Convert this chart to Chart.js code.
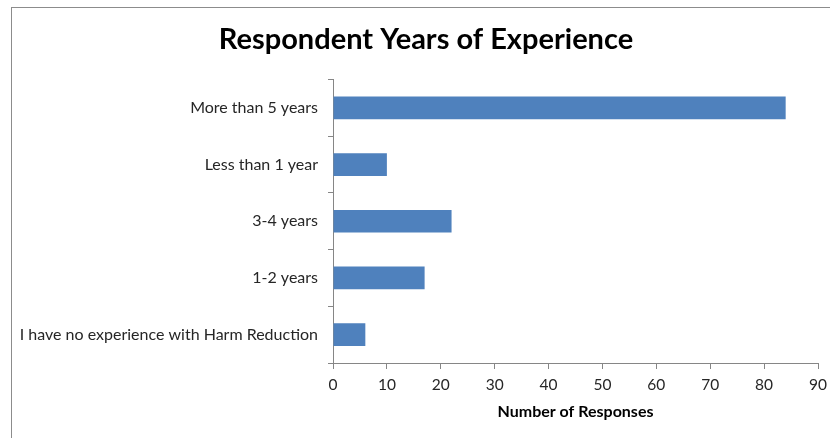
<!DOCTYPE html>
<html>
<head>
<meta charset="utf-8">
<script src="https://cdn.jsdelivr.net/npm/chart.js@4/dist/chart.umd.min.js"></script>
<style>
  html, body { margin: 0; padding: 0; background: #fff; }
  #wrap { position: relative; width: 830px; height: 438px; overflow: hidden; }
  #frame { position: absolute; left: 11px; top: 7px; width: 840px; height: 450px; border: 1px solid #8c8c8c; }
  #chart { position: absolute; left: 0; top: 0; }
</style>
</head>
<body>
<div id="wrap">
  <div id="frame"></div>
  <canvas id="chart" width="830" height="438"></canvas>
</div>
<script>
const categories = ['More than 5 years', 'Less than 1 year', '3-4 years', '1-2 years', 'I have no experience with Harm Reduction'];
const responses = [84, 10, 22, 17, 6];
const xTicks = [0, 10, 20, 30, 40, 50, 60, 70, 80, 90];

const FONT = 'Lato, "Open Sans", sans-serif';
const axisGrey = '#868686';

// title sits a bit right of the canvas centre (centred on the framed box)
const shiftTitle = {
  id: 'shiftTitle',
  afterLayout(chart) {
    const t = chart.titleBlock;
    if (t) { t.left += 12; t.right += 12; }
  }
};

const ctx = document.getElementById('chart').getContext('2d');
new Chart(ctx, {
  type: 'bar',
  data: {
    labels: categories,
    datasets: [{
      label: 'Number of Responses',
      data: responses,
      backgroundColor: '#4f81bd',
      borderWidth: 0,
      categoryPercentage: 1,
      barPercentage: 0.4
    }]
  },
  options: {
    indexAxis: 'y',
    responsive: false,
    animation: false,
    layout: { padding: { left: 10, right: 12, top: 0, bottom: 0 } },
    plugins: {
      legend: { display: false },
      tooltip: { enabled: false },
      title: {
        display: true,
        text: 'Respondent Years of Experience',
        color: '#000',
        font: { family: FONT, size: 29, weight: 'bold', lineHeight: 1.2 },
        padding: { top: 22, bottom: 22.7 }
      }
    },
    scales: {
      x: {
        min: xTicks[0],
        max: xTicks[xTicks.length - 1],
        afterBuildTicks: s => { s.ticks = xTicks.map(v => ({ value: v })); },
        afterFit: s => { s.height = 75; s.paddingRight = 0; },
        border: { color: axisGrey, width: 1 },
        grid: { drawOnChartArea: false, color: axisGrey, tickLength: 6 },
        ticks: { color: '#262626', padding: 7, font: { family: FONT, size: 15.5 } },
        title: {
          display: true,
          text: 'Number of Responses',
          color: '#000',
          font: { family: FONT, size: 16, weight: 'bold', lineHeight: 1.2 },
          padding: { top: 0, bottom: 17 }
        }
      },
      y: {
        afterFit: s => { s.width = 323; },
        border: { color: axisGrey, width: 1 },
        grid: { drawOnChartArea: false, color: axisGrey, tickLength: 5, offset: true },
        ticks: { color: '#262626', padding: 10, font: { family: FONT, size: 16 } }
      }
    }
  },
  plugins: [shiftTitle]
});
</script>
</body>
</html>
